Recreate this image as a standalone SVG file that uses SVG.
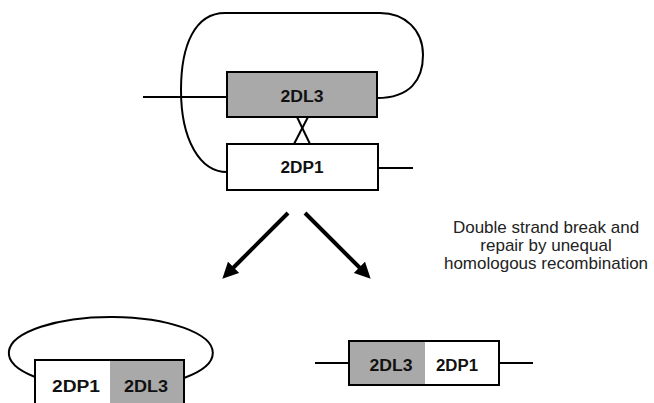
<svg xmlns="http://www.w3.org/2000/svg" width="654" height="403" viewBox="0 0 654 403">
<style>
.ln{fill:none;stroke:#000;stroke-width:2}
.box{stroke:#000;stroke-width:2}
.g{fill:#a9a9a9}
.w{fill:#fff}
.lbl{font-family:"Liberation Sans",Arial,sans-serif;font-weight:bold;font-size:16px;text-anchor:middle;fill:#111}
.note{font-family:"Liberation Sans",Arial,sans-serif;font-size:17px;text-anchor:middle;fill:#222}
</style>
<defs>
<marker id="ah" viewBox="0 0 10 10" refX="5" refY="5" markerWidth="4" markerHeight="4" orient="auto" markerUnits="strokeWidth">
<path d="M0,0 L10,5 L0,10 z" fill="#000"/>
</marker>
</defs>
<rect width="654" height="403" fill="#fff"/>
<g id="connectors">
<line class="ln" x1="143" y1="97" x2="227" y2="97"/>
<line class="ln" x1="378" y1="168" x2="413" y2="168"/>
<path class="ln" d="M377,98 C410,98 423,80 423,55 C423,30 405,13 380,13 L225,13 C195,13 181,45 181,90 C181,140 200,172 227,172"/>
<line class="ln" x1="297" y1="117" x2="310" y2="144"/>
<line class="ln" x1="308" y1="117" x2="294" y2="144"/>
<line x1="288" y1="213" x2="228" y2="273" stroke="#000" stroke-width="4" marker-end="url(#ah)"/>
<line x1="305" y1="213" x2="365" y2="273" stroke="#000" stroke-width="4" marker-end="url(#ah)"/>
<path class="ln" d="M35,377 A102,36 0 1 1 184,378"/>
<line class="ln" x1="315" y1="363" x2="349" y2="363"/>
<line class="ln" x1="499" y1="363" x2="533" y2="363"/>
</g>
<g id="n2DL3">
<rect class="box g" x="227" y="72" width="150" height="45"/>
<text class="lbl" x="302" y="102" textLength="43" lengthAdjust="spacingAndGlyphs">2DL3</text>
</g>
<g id="n2DP1">
<rect class="box w" x="227" y="144" width="151" height="46"/>
<text class="lbl" x="302" y="173" textLength="43" lengthAdjust="spacingAndGlyphs">2DP1</text>
</g>
<g id="label">
<text class="note" x="546" y="233">Double strand break and</text>
<text class="note" x="546" y="251">repair by unequal</text>
<text class="note" x="546" y="269">homologous recombination</text>
</g>
<g id="circular">
<rect class="w" x="35" y="360" width="75" height="50"/>
<rect class="g" x="110" y="360" width="74" height="50"/>
<rect class="box" fill="none" x="35" y="360" width="149" height="50"/>
<text class="lbl" x="76" y="392" textLength="48" lengthAdjust="spacingAndGlyphs">2DP1</text>
<text class="lbl" x="146" y="392" textLength="44" lengthAdjust="spacingAndGlyphs">2DL3</text>
</g>
<g id="linear">
<rect class="w" x="349" y="341" width="150" height="44"/>
<rect class="g" x="349" y="341" width="76" height="44"/>
<rect class="box" fill="none" x="349" y="341" width="150" height="44"/>
<text class="lbl" x="391" y="371" textLength="43" lengthAdjust="spacingAndGlyphs">2DL3</text>
<text class="lbl" x="457" y="371" textLength="42" lengthAdjust="spacingAndGlyphs">2DP1</text>
</g>
</svg>
